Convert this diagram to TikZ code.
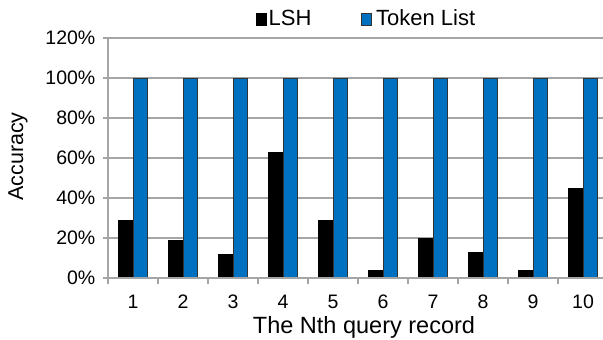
\documentclass[tikz,border=0pt]{standalone}
\usepackage{fontspec}
\setmainfont{Liberation Sans}
\definecolor{tokblue}{RGB}{0,112,192}
\definecolor{gridgray}{RGB}{165,165,165}
\begin{document}
\begin{tikzpicture}[x=1bp,y=-1bp,
  gridline/.style={draw=gridgray,line width=1.4bp},
  lshbar/.style={fill=black,draw=black,line width=0.8bp},
  tokbar/.style={fill=tokblue,draw=black!80,line width=0.8bp},
  ticklbl/.style={font=\fontsize{19.5bp}{22bp}\selectfont,inner sep=0pt},
  titlelbl/.style={font=\fontsize{23.5bp}{26bp}\selectfont,inner sep=0pt},
  leglbl/.style={font=\fontsize{22bp}{25bp}\selectfont,inner sep=0pt},
  ylbl/.style={font=\fontsize{21.5bp}{24bp}\selectfont,inner sep=0pt}]
\useasboundingbox (0,0) rectangle (603,339);
\clip (0,0) rectangle (603,339);

% horizontal grid lines and y tick labels
\foreach \v in {20,40,...,120}
  \draw[gridline] (108,278-2*\v) -- (603,278-2*\v);
\foreach \v in {0,20,...,120}{
  \draw[gridline] (103,278-2*\v) -- (108,278-2*\v);
  \node[ticklbl,anchor=east] (y\v) at (95.5,278-2*\v) {\v\%};
}

% bars: LSH (black) and Token List (blue)
\foreach \i/\v in {1/29,2/19,3/12,4/63,5/29,6/4,7/20,8/13,9/4,10/45}{
  \pgfmathsetmacro{\c}{108+50*(\i-0.5)}
  \draw[lshbar] (\c-14.5,278) rectangle (\c,278-2*\v);
  \draw[tokbar] (\c,278) rectangle (\c+14.5,78);
  \node[ticklbl] (x\i) at (\c,302) {\i};
}

% axes
\draw[gridline] (108,38) -- (108,278);
\draw[gridline] (108,278) -- (603,278);
\foreach \k in {0,...,10}
  \draw[gridline] (108+50*\k,278) -- (108+50*\k,284);

% axis titles
\node[titlelbl,anchor=base] (xtitle) at (364,333) {The Nth query record};
\node[ylbl,rotate=90] (ytitle) at (18,156.5) {Accuracy};

% legend
\draw[lshbar] (256,13) rectangle (266,25);
\node[leglbl,anchor=base west] (leglsh) at (268.5,25.5) {LSH};
\draw[tokbar] (361,13) rectangle (371.5,25);
\node[leglbl,anchor=base west] (legtok) at (376,25.5) {Token List};
\end{tikzpicture}
\end{document}
